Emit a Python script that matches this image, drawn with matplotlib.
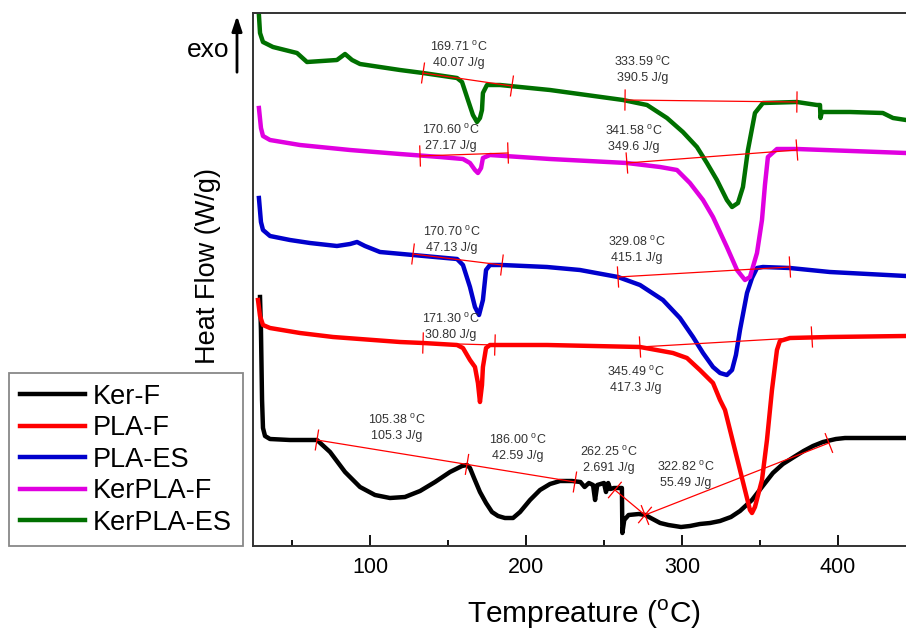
import numpy as np
import matplotlib.pyplot as plt

plt.rcParams['font.family'] = ['Liberation Sans', 'DejaVu Sans']
plt.rcParams['mathtext.fontset'] = 'custom'
plt.rcParams['mathtext.rm'] = 'Liberation Sans'

# DSC traces, temperature in C, heat flow stacked with offsets (arbitrary units)
names = ['Ker-F', 'PLA-F', 'PLA-ES', 'KerPLA-F', 'KerPLA-ES']
colors = ['black', '#ff0000', '#0000cc', '#e000e0', '#007000']

t_kerf = [29.5, 30.1, 30.8, 31.4, 32.7, 35.9, 48.7, 66.0, 74.4, 84.0, 93.6, 103.2, 112.8,
          122.4, 132.1, 141.7, 151.3, 159.0, 162.2, 164.1, 166.7, 170.5, 174.4, 178.2, 182.1,
          186.5, 191.7, 196.2, 202.6, 209.0, 215.4, 221.8, 229.5, 234.9, 237.6, 240.3, 243.0,
          244.3, 245.7, 250.0, 251.3, 252.7, 254.0, 256.4, 260.5, 261.5, 261.8, 263.0, 265.8,
          272.4, 276.5, 280.0, 286.0, 291.3, 299.4, 305.1, 311.5, 318.0, 324.4, 331.4, 337.2,
          344.9, 351.3, 358.3, 364.7, 371.8, 378.0, 384.0, 390.4, 398.7, 404.5, 414.1, 443.6]
hf_kerf = [249, 216, 146, 118, 110, 107, 106, 106, 94, 74, 59, 51, 48,
           49, 55, 64, 74, 80, 81, 78, 68, 54, 43, 34, 30,
           28, 28, 34, 46, 56, 62, 65, 65, 64, 59, 63, 61,
           46, 61, 63, 54, 63, 57, 58, 58, 58, 13, 26, 31,
           32, 31, 28, 23, 21, 19, 20, 22, 23, 25, 29, 35,
           46, 59, 73, 82, 89, 95, 100, 104, 107, 108, 108, 108]

t_plaf = [28.2, 29.5, 31.4, 35.9, 55.1, 76.3, 119.2, 134.0, 155.8, 159.6, 164.1, 167.3, 169.2,
          170.5, 171.8, 172.4, 174.4, 176.9, 213.5, 273.1, 294.2, 303.2, 311.5, 319.9, 324.4,
          327.6, 334.0, 340.4, 343.6, 344.9, 346.8, 351.3, 354.5, 357.7, 360.9, 362.8, 369.2,
          394.8, 443.6]
hf_plaf = [246, 230, 221, 218, 213, 209, 204, 203, 201, 198, 186, 179, 163,
           144, 161, 179, 198, 201, 201, 199, 193, 188, 176, 163, 146,
           136, 96, 56, 36, 33, 39, 66, 106, 156, 196, 205, 208,
           209, 210]

t_plaes = [28.8, 30.1, 31.4, 35.9, 48.7, 61.5, 78.8, 87.2, 91.7, 96.8, 106.4, 127.6, 155.8,
           159.6, 164.1, 167.3, 169.9, 172.4, 174.4, 176.9, 184.6, 213.5, 234.6, 259.0, 273.1,
           287.8, 298.7, 307.1, 313.5, 319.9, 324.4, 328.8, 332.1, 334.6, 337.2, 341.7, 344.9,
           348.1, 351.9, 369.2, 394.8, 443.6]
hf_plaes = [348, 324, 316, 310, 306, 303, 300, 302, 304, 300, 294, 291, 287,
            281, 259, 239, 231, 246, 276, 281, 281, 279, 276, 269, 261,
            246, 228, 209, 193, 179, 173, 171, 176, 191, 216, 253, 268,
            278, 279, 278, 274, 270]

t_kerplaf = [28.8, 30.1, 31.4, 35.9, 55.1, 87.2, 119.2, 144.9, 159.6, 164.1, 167.3, 169.2,
             171.2, 172.4, 176.9, 215.4, 264.7, 286.0, 296.8, 305.1, 313.5, 319.9, 328.8,
             335.3, 340.4, 343.6, 348.1, 351.3, 353.2, 355.1, 360.9, 373.7, 443.6]
hf_kerplaf = [438, 418, 410, 406, 401, 396, 392, 389, 387, 383, 376, 373,
              378, 388, 391, 387, 383, 379, 376, 363, 346, 329, 299,
              276, 266, 269, 293, 326, 361, 389, 397, 397, 393]

t_kerplaes = [28.8, 29.5, 31.4, 37.8, 53.2, 59.6, 78.8, 84.0, 88.5, 93.6, 119.2, 134.0, 155.8,
              159.0, 162.8, 166.0, 168.6, 170.5, 171.8, 172.4, 175.0, 183.3, 215.4, 262.2,
              277.6, 290.4, 300.6, 309.6, 316.0, 322.4, 328.8, 332.1, 335.9, 339.1, 342.3,
              346.8, 351.9, 373.7, 386.5, 388.5, 388.8, 389.7, 407.7, 428.8, 435.3, 443.6]
hf_kerplaes = [531, 513, 504, 499, 493, 484, 486, 492, 486, 482, 476, 473, 468,
               464, 446, 431, 424, 428, 436, 453, 461, 461, 456, 446,
               441, 428, 414, 399, 383, 366, 346, 339, 343, 359, 396,
               433, 443, 444, 441, 441, 428, 434, 434, 433, 428, 426]

# integration baselines (vertices get a short mark)
base_kerf = [([66.0, 162.2, 231.4], [106, 81.6, 64]),
             ([257.0, 276.3], [56, 31]),
             ([276.3, 394.2], [31, 103])]
base_plaf = [([134.0, 180.1], [203, 201]), ([273.1, 383.3], [199, 209])]
base_plaes = [([127.6, 184.6], [292, 281]), ([259.0, 369.2], [269, 279])]
base_kerplaf = [([132.1, 188.5], [390, 393]), ([264.7, 373.7], [383, 396])]
base_kerplaes = [([134.0, 191.0], [473, 460]), ([263.5, 373.7], [446, 444])]

peak_temp = ['105.38', '186.00', '262.25', '322.82', '171.30', '345.49',
             '170.70', '329.08', '170.60', '341.58', '169.71', '333.59']
enthalpy = ['105.3', '42.59', '2.691', '55.49', '30.80', '417.3',
            '47.13', '415.1', '27.17', '349.6', '40.07', '390.5']

curves = [(t_kerf, hf_kerf), (t_plaf, hf_plaf), (t_plaes, hf_plaes),
          (t_kerplaf, hf_kerplaf), (t_kerplaes, hf_kerplaes)]
baselines = base_kerf + base_plaf + base_plaes + base_kerplaf + base_kerplaes

fig = plt.figure(figsize=(9.06, 6.31), dpi=100)
ax = fig.add_axes([253 / 906, 85 / 631, 662 / 906, 533 / 631])
ax.set_xlim(25, 449.4)
ax.set_ylim(0, 533)

for (t, hf), name, c in zip(curves, names, colors):
    ax.plot(t, hf, color=c, lw=3.2, label=name, solid_joinstyle='round')


def mark(p0, p1, half=10):
    # short red mark across the baseline at p0, perpendicular on screen
    p = ax.transData.transform([p0, p1])
    d = p[1] - p[0]
    n = np.array([-d[1], d[0]]) / np.hypot(*d) * half
    q = ax.transData.inverted().transform([p[0] - n, p[0] + n])
    ax.plot(q[:, 0], q[:, 1], color='red', lw=0.9, zorder=6)


for bt, bh in baselines:
    ax.plot(bt, bh, color='red', lw=0.9, zorder=6)
    pts = list(zip(bt, bh))
    for i in range(len(pts)):
        j = i + 1 if i + 1 < len(pts) else i - 1
        mark(pts[i], pts[j] if j > i else (2 * pts[i][0] - pts[j][0], 2 * pts[i][1] - pts[j][1]))

# label spots (temperature, heat flow) for the peak annotations
spots = [(117.3, 126), (194.9, 106), (253.2, 94), (302.6, 79), (151.6, 227), (270.2, 174),
         (152.2, 314), (271.2, 304), (151.6, 416), (269.3, 415), (157.1, 499), (275.0, 484)]
for (x, y), tp, dh in zip(spots, peak_temp, enthalpy):
    ax.text(x, y, tp + r' $^{\mathrm{o}}$C', ha='center', va='center', fontsize=9, color='#333333')
    ax.text(x, y - 16, dh + ' J/g', ha='center', va='center', fontsize=9, color='#333333')

ax.set_xticks([100, 200, 300, 400])
ax.set_xticks([50, 150, 250, 350], minor=True)
ax.set_yticks([])
ax.tick_params(axis='x', which='major', direction='in', length=8, width=1.3, pad=8, labelsize=15.5)
ax.tick_params(axis='x', which='minor', direction='in', length=4.5, width=1.3)
for s in ['left', 'top', 'bottom']:
    ax.spines[s].set_linewidth(1.4)
    ax.spines[s].set_color('#333333')
ax.spines['right'].set_visible(False)

ax.set_xlabel(r'Tempreature ($^{\mathrm{o}}$C)', fontsize=21.5, labelpad=14)
ax.set_ylabel('Heat Flow (W/g)', fontsize=19.5)
ax.yaxis.set_label_coords(-0.048, 0.525)

# exo arrow
ax.annotate('', xy=(237, 618), xytext=(237, 556), xycoords='figure pixels',
            textcoords='figure pixels',
            arrowprops=dict(arrowstyle='-|>,head_length=0.9,head_width=0.3', color='black', lw=2))
fig.text(208 / 906, 581 / 631, 'exo', ha='center', va='center', fontsize=19)

leg = ax.legend(loc='upper left', bbox_to_anchor=(9 / 906, 1 - 373 / 631),
                bbox_transform=fig.transFigure, borderaxespad=0, fontsize=19.5,
                handlelength=2.4, handletextpad=0.3, labelspacing=0.2, borderpad=0.4,
                fancybox=False, framealpha=1)
leg.get_frame().set_edgecolor('#888888')
leg.get_frame().set_linewidth(1.3)

fig.savefig('out.png', dpi=100)
